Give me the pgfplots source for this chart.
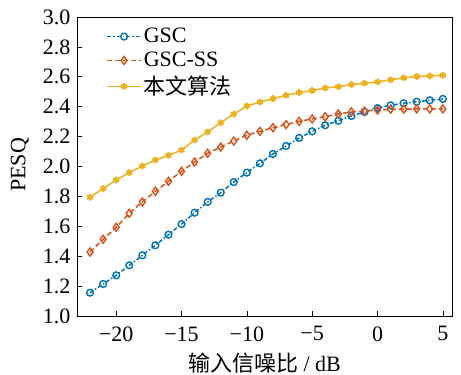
\documentclass[border=0pt]{standalone}
\usepackage{fontspec}
\setmainfont{Liberation Serif}
\newfontfamily\cjk{Noto Sans CJK SC}
\usepackage{pgfplots}
\pgfplotsset{compat=1.18}
\definecolor{mblue}{RGB}{0,114,189}
\definecolor{mred}{RGB}{217,83,25}
\definecolor{myellow}{RGB}{237,177,32}
\begin{document}
\fontsize{22}{26}\selectfont
\begin{tikzpicture}
\begin{axis}[
  at={(0,0)}, anchor=south west,
  scale only axis, width=375pt, height=299pt,
  xmin=-23, xmax=5.7, ymin=1.0, ymax=3.0,
  xtick={-20,-15,-10,-5,0,5},
  xticklabels={−20,−15,−10,−5,0,5},
  ytick={1.0,1.2,...,3.0},
  yticklabel style={xshift=1pt, /pgf/number format/.cd, fixed, fixed zerofill, precision=1, assume math mode=true},
  tick label style={font=\fontsize{22}{26}\selectfont},
  xticklabel style={yshift=-3pt},
  tick align=inside, xtick pos=bottom, ytick pos=left,
  major tick length=5pt,
  tick style={black, line width=0.6pt},
  axis line style={line width=0.6pt},
  font=\fontsize{22}{26}\selectfont,
  xlabel={{\cjk 输入信噪比} / dB},
  ylabel={PESQ},
  xlabel style={at={(rel axis cs:0.5,0)}, anchor=center, yshift=-47pt, inner sep=0pt},
  ylabel style={at={(rel axis cs:0,0.505)}, anchor=center, yshift=57pt},
  legend style={draw=none, fill=none, at={(rel axis cs:0.075,0.975)}, anchor=north west, row sep=2pt, font=\fontsize{22}{26}\selectfont, inner sep=1pt},
  legend cell align=left,
  legend image code/.code={\draw[mark repeat=2,mark phase=2] plot coordinates {(0pt,0pt) (17pt,0pt) (34pt,0pt)};},
]
\addplot[color=mblue, line width=1.5pt, dash pattern=on 4pt off 2pt on 1.5pt off 2pt, mark=o, mark size=3.4pt, mark options={solid, line width=1.4pt}] coordinates {
(-22,1.156) (-21,1.214) (-20,1.272) (-19,1.339) (-18,1.406) (-17,1.473) (-16,1.544) (-15,1.615) (-14,1.691) (-13,1.763) (-12,1.825) (-11,1.896) (-10,1.959) (-9,2.021) (-8,2.084) (-7,2.137) (-6,2.191) (-5,2.235) (-4,2.276) (-3,2.306) (-2,2.338) (-1,2.365) (0,2.391) (1,2.409) (2,2.423) (3,2.433) (4,2.443) (5,2.452)
};
\addlegendentry{GSC}
\addplot[color=mred, line width=1.5pt, dash pattern=on 5pt off 3pt, mark=diamond, mark size=4pt, mark options={solid, line width=1.4pt}] coordinates {
(-22,1.428) (-21,1.513) (-20,1.593) (-19,1.687) (-18,1.763) (-17,1.834) (-16,1.901) (-15,1.968) (-14,2.030) (-13,2.088) (-12,2.130) (-11,2.170) (-10,2.209) (-9,2.235) (-8,2.260) (-7,2.280) (-6,2.302) (-5,2.318) (-4,2.333) (-3,2.351) (-2,2.365) (-1,2.370) (0,2.378) (1,2.383) (2,2.384) (3,2.385) (4,2.385) (5,2.385)
};
\addlegendentry{GSC-SS}
\addplot[color=myellow, line width=1.5pt, mark=asterisk, mark size=3.4pt, mark options={solid, line width=2pt}] coordinates {
(-22,1.794) (-21,1.852) (-20,1.910) (-19,1.959) (-18,2.003) (-17,2.043) (-16,2.075) (-15,2.110) (-14,2.177) (-13,2.231) (-12,2.293) (-11,2.351) (-10,2.405) (-9,2.431) (-8,2.454) (-7,2.476) (-6,2.494) (-5,2.508) (-4,2.525) (-3,2.534) (-2,2.548) (-1,2.557) (0,2.566) (1,2.580) (2,2.593) (3,2.602) (4,2.606) (5,2.610)
};
\addlegendentry{{\cjk 本文算法}}
\end{axis}
\pgfresetboundingbox
\path (-77pt,-59pt) rectangle (384pt,316pt);
\end{tikzpicture}
\end{document}
